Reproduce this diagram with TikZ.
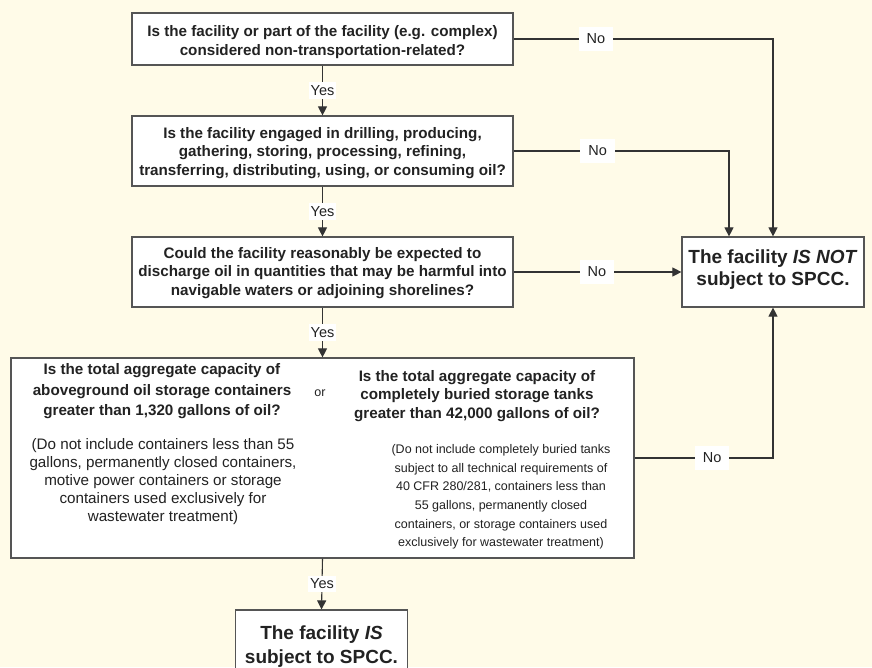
\documentclass[tikz,border=0pt]{standalone}
\usepackage{fontspec}
\setmainfont{Liberation Sans}
\usetikzlibrary{arrows.meta}
\definecolor{bg}{HTML}{FFFBE8}
\definecolor{ln}{HTML}{333333}
\definecolor{bd}{HTML}{555555}
\definecolor{tx}{HTML}{222222}
\begin{document}
\begin{tikzpicture}[x=1pt,y=-1pt,
  qbox/.style={draw=bd, line width=1.2pt, fill=white, inner sep=0pt},
  qtxt/.style={text=tx, align=center, inner sep=0pt, font=\fontsize{15.2}{18.8}\selectfont\bfseries},
  endtxt/.style={qtxt, font=\fontsize{19}{22}\selectfont\bfseries},
  regtxt/.style={text=tx, align=center, inner sep=0pt},
  arr/.style={draw=ln, line width=1.1pt, -{Triangle[length=9pt,width=9pt]}},
  lbl/.style={fill=white, text=tx, font=\fontsize{14.5}{17}\selectfont, inner xsep=8pt, inner ysep=7pt},
  yes/.style={lbl, inner xsep=2pt, inner ysep=3pt}
]
\path[fill=bg] (0,0) rectangle (872,667);
\useasboundingbox (0,0) rectangle (872,667);

% boxes
\node[qbox, minimum width=381pt, minimum height=52pt] (b1) at (322.5,39) {};
\node[qbox, minimum width=381pt, minimum height=70pt] (b2) at (322.5,151) {};
\node[qbox, minimum width=381pt, minimum height=70pt] (b3) at (322.5,272) {};
\node[qbox, minimum width=182pt, minimum height=70pt] (bnot) at (773,272) {};
\node[qbox, minimum width=623pt, minimum height=200pt] (b4) at (322.5,458) {};
\node[qbox, minimum width=172pt, minimum height=62pt] (b5) at (321.5,641) {};

% box texts
\node[qtxt] (t1) at (322.5,42)
  {Is the facility or part of the facility (e.g. complex)\\considered non-transportation-related?};
\node[qtxt] (t2) at (322.5,153)
  {Is the facility engaged in drilling, producing,\\gathering, storing, processing, refining,\\transferring, distributing, using, or consuming oil?};
\node[qtxt] (t3) at (322.5,273)
  {Could the facility reasonably be expected to\\discharge oil in quantities that may be harmful into\\navigable waters or adjoining shorelines?};
\node[endtxt] (tnot) at (773,270)
  {The facility \textit{IS NOT}\\subject to SPCC.};
\node[endtxt, font=\fontsize{19}{24}\selectfont\bfseries] (t5) at (321.5,647)
  {The facility \textit{IS}\\subject to SPCC.};

\node[qtxt, font=\fontsize{15.2}{20.5}\selectfont\bfseries] (l1) at (162,391.5)
  {Is the total aggregate capacity of\\aboveground oil storage containers\\greater than 1,320 gallons of oil?};
\node[regtxt, font=\fontsize{15.2}{18}\selectfont] (l2) at (163,482)
  {(Do not include containers less than 55\\gallons, permanently closed containers,\\motive power containers or storage\\containers used exclusively for\\wastewater treatment)};
\node[regtxt, font=\fontsize{12.5}{15}\selectfont] (or) at (320,393) {or};
\node[qtxt, font=\fontsize{15.2}{18.3}\selectfont\bfseries] (r1) at (477,396)
  {Is the total aggregate capacity of\\completely buried storage tanks\\greater than 42,000 gallons of oil?};
\node[regtxt, font=\fontsize{12.5}{18.6}\selectfont] (r2) at (501,497)
  {(Do not include completely buried tanks\\subject to all technical requirements of\\40 CFR 280/281, containers less than\\55 gallons, permanently closed\\containers, or storage containers used\\exclusively for wastewater treatment)};

\coordinate (n2) at ([xshift=-44pt]bnot.north);

% Yes connectors
\draw[arr] (b1.south) -- node[yes]{Yes} (b2.north);
\draw[arr] (b2.south) -- node[yes]{Yes} (b3.north);
\draw[arr] (b3.south) -- node[yes]{Yes} (b4.north);
\draw[arr] (b4.south) -- node[yes]{Yes} (b5.north);

% No connectors
\draw[arr] (b1.east) -- node[lbl, pos=0.317]{No} (b1.east -| bnot.north) -- (bnot.north);
\draw[arr] (b2.east) -- node[lbl, pos=0.39]{No} (b2.east -| n2) -- (n2);
\draw[arr] (b3.east) -- node[lbl, pos=0.497]{No} (bnot.west);
\draw[arr] (b4.east) -- node[lbl, pos=0.56]{No} (b4.east -| bnot.south) -- (bnot.south);
\end{tikzpicture}
\end{document}
